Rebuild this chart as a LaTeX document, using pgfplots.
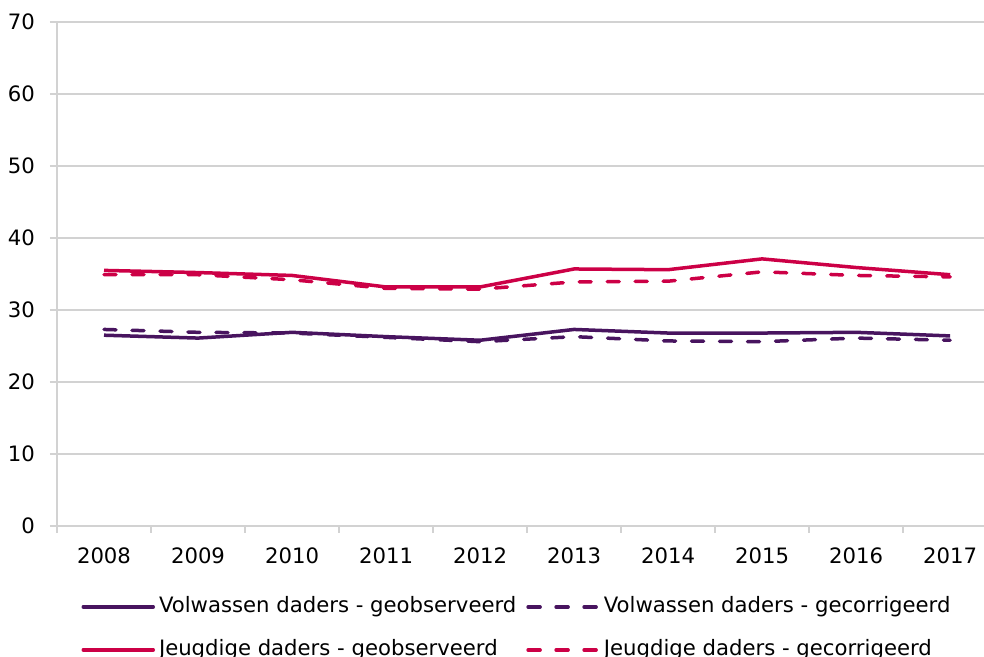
\documentclass[border=0pt]{standalone}
\usepackage{fontspec}
\setmainfont{DejaVu Sans}
\usepackage{pgfplots}
\pgfplotsset{compat=1.18}
\definecolor{paars}{RGB}{72,20,95}
\definecolor{robijn}{RGB}{204,0,70}
\definecolor{gridgray}{RGB}{210,210,210}

\begin{document}
\begin{tikzpicture}
\begin{axis}[
    scale only axis,
    width=463.5pt, height=252pt,
    xmin=-0.5, xmax=9.36,
    ymin=0, ymax=70,
    axis x line=bottom, axis y line=left,
    axis line style={-, draw=gridgray, line width=0.9pt},
    ytick={0,10,...,70},
    xtick={0,...,9},
    xticklabels={2008,2009,2010,2011,2012,2013,2014,2015,2016,2017},
    minor xtick={-0.5,0.5,...,8.5},
    major x tick style={draw=none},
    minor x tick style={draw=gridgray, line width=0.9pt},
    minor tick length=3.5pt,
    ytick style={draw=gridgray, line width=0.9pt},
    major tick length=3.5pt,
    tick align=outside,
    ymajorgrids,
    grid style={draw=gridgray, line width=0.9pt},
    tick label style={font=\fontsize{10.6}{12}\selectfont, text=black},
    /pgf/number format/assume math mode=true,
    yticklabel style={xshift=-4pt},
    xticklabel style={yshift=-4pt},
    clip=false,
    legend columns=2,
    legend cell align=left,
    legend style={at={(axis description cs:0.026,-0.135)}, anchor=north west,
        draw=none, fill=none, inner sep=0pt,
        font=\fontsize{10.6}{12}\selectfont,
        nodes={inner sep=1pt, text height=8pt, text depth=2.5pt},
        row sep=9pt, column sep=0pt,
        /tikz/every odd column/.append style={column sep=1pt},
        /tikz/every even column/.append style={column sep=4pt}},
    legend image code/.code={\draw[#1, line cap=round] (0pt,0pt) -- (35pt,0pt);},
    every axis plot/.append style={line width=1.75pt, line join=round},
    mydash/.style={dash pattern=on 6pt off 8pt, line cap=round},
]
\addplot[paars] coordinates {
 (0,26.5) (1,26.1) (2,26.9) (3,26.3) (4,25.8) (5,27.3) (6,26.8) (7,26.8) (8,26.9) (9,26.4)};
\addlegendentry{Volwassen daders - geobserveerd}
\addplot[paars, mydash] coordinates {
 (0,27.3) (1,26.9) (2,26.8) (3,26.2) (4,25.6) (5,26.3) (6,25.7) (7,25.6) (8,26.1) (9,25.8)};
\addlegendentry{Volwassen daders - gecorrigeerd}
\addplot[robijn] coordinates {
 (0,35.5) (1,35.2) (2,34.8) (3,33.2) (4,33.2) (5,35.7) (6,35.6) (7,37.1) (8,35.9) (9,34.9)};
\addlegendentry{Jeugdige daders - geobserveerd}
\addplot[robijn, mydash] coordinates {
 (0,34.9) (1,34.9) (2,34.2) (3,33.0) (4,32.9) (5,33.9) (6,34.0) (7,35.3) (8,34.8) (9,34.6)};
\addlegendentry{Jeugdige daders - gecorrigeerd}
\end{axis}
\pgfresetboundingbox
\path[use as bounding box] (-28.5pt,-65.5pt) rectangle (463.5pt,263pt);
\end{tikzpicture}
\end{document}
